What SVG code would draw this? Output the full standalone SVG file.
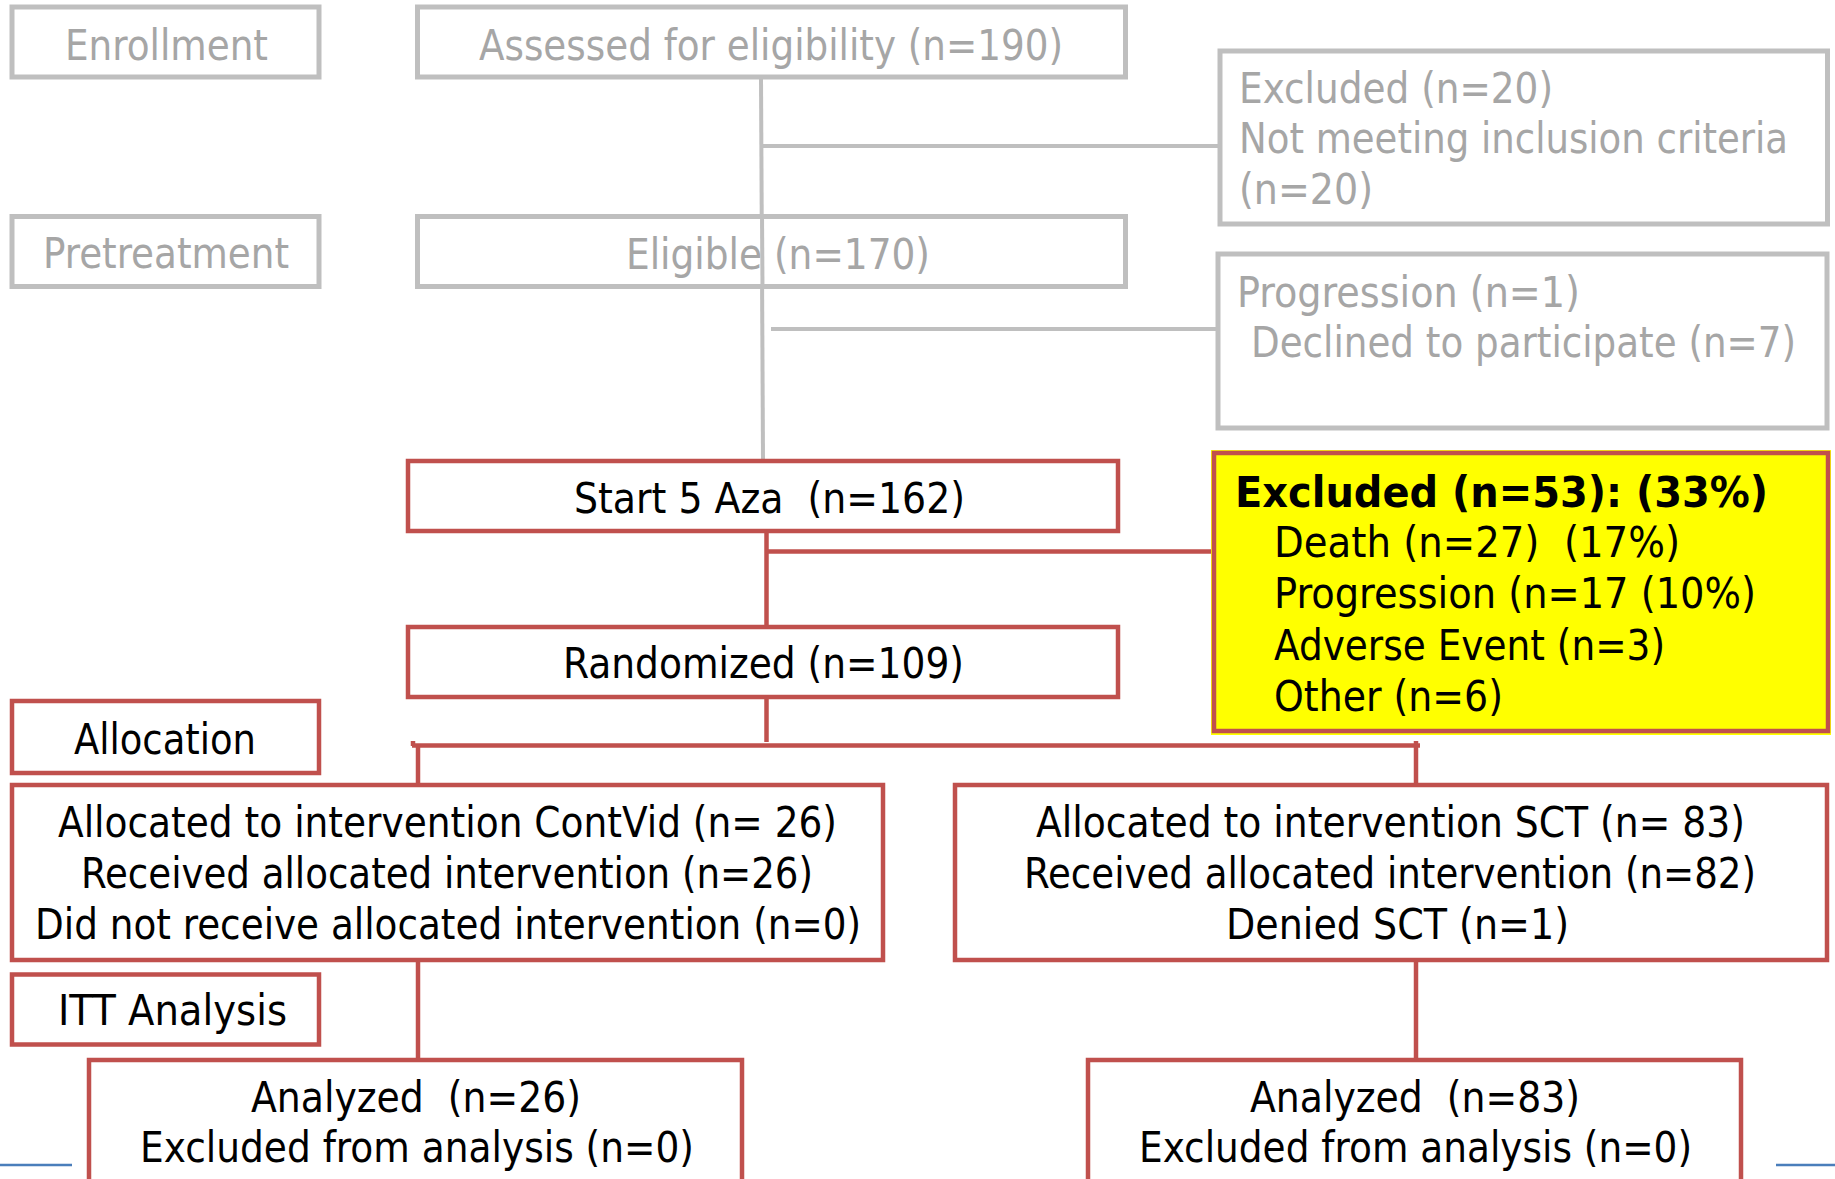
<svg xmlns="http://www.w3.org/2000/svg" width="1835" height="1179" viewBox="0 0 1835 1179">
<style>
.g{fill:#fff;stroke:#BFBFBF;stroke-width:5}
.r{fill:#fff;stroke:#C0504D;stroke-width:4.5}
.y{fill:#FFFF00;stroke:#C0504D;stroke-width:4.5}
.gl{stroke:#BFBFBF;stroke-width:4;fill:none}
.rl{stroke:#C0504D;stroke-width:4.5;fill:none}
.bl{stroke:#4A7EBB;stroke-width:2.5;fill:none}
text{font-family:"DejaVu Sans Condensed","DejaVu Sans",Verdana,sans-serif;font-stretch:condensed;font-size:43px;white-space:pre}
.gt{fill:#A6A6A6}
.bt{fill:#000}
.bd{font-weight:bold}
</style>
<rect x="0" y="0" width="1835" height="1179" fill="#fff"/>
<g id="connectors">
<line class="gl" x1="761" y1="78" x2="763" y2="460"/>
<line class="gl" x1="763" y1="146" x2="1220" y2="146"/>
<line class="gl" x1="771" y1="329" x2="1218" y2="329"/>
<line class="rl" x1="766.5" y1="531" x2="766.5" y2="627"/>
<line class="rl" x1="766.5" y1="551.5" x2="1214" y2="551.5"/>
<line class="rl" x1="766.5" y1="697" x2="766.5" y2="742"/>
<line class="rl" x1="412" y1="745.5" x2="1420" y2="745.5"/>
<line class="rl" x1="413" y1="741" x2="413" y2="746"/>
<line class="rl" x1="418" y1="745" x2="418" y2="785"/>
<line class="rl" x1="1416" y1="741" x2="1416" y2="785"/>
<line class="rl" x1="418" y1="960" x2="418" y2="1060"/>
<line class="rl" x1="1416" y1="960" x2="1416" y2="1060"/>
<line class="bl" x1="0" y1="1165" x2="72" y2="1165"/>
<line class="bl" x1="1776" y1="1165" x2="1835" y2="1165"/>
</g>
<g id="enrollment"><rect class="g" x="12" y="7" width="307" height="70"/><text class="gt" x="65" y="60" textLength="203" lengthAdjust="spacingAndGlyphs">Enrollment</text></g>
<g id="assessed"><rect class="g" x="417.5" y="7" width="708" height="70"/><text class="gt" x="479" y="60" textLength="584" lengthAdjust="spacingAndGlyphs">Assessed for eligibility (n=190)</text></g>
<g id="excluded20"><rect class="g" x="1220" y="51" width="607.5" height="173"/>
<text class="gt" x="1239" y="103" textLength="314" lengthAdjust="spacingAndGlyphs">Excluded (n=20)</text>
<text class="gt" x="1239" y="153" textLength="549" lengthAdjust="spacingAndGlyphs">Not meeting inclusion criteria</text>
<text class="gt" x="1239" y="204" textLength="134" lengthAdjust="spacingAndGlyphs">(n=20)</text></g>
<g id="pretreatment"><rect class="g" x="12" y="216.5" width="307" height="70"/><text class="gt" x="43" y="268" textLength="246" lengthAdjust="spacingAndGlyphs">Pretreatment</text></g>
<g id="eligible"><rect class="g" x="417.5" y="216.5" width="708" height="70"/><text class="gt" x="626" y="269" textLength="304" lengthAdjust="spacingAndGlyphs">Eligible (n=170)</text></g>
<line class="gl" x1="762" y1="214" x2="762.5" y2="289"/>
<g id="declined"><rect class="g" x="1218" y="254" width="609" height="174"/>
<text class="gt" x="1237" y="307" textLength="343" lengthAdjust="spacingAndGlyphs">Progression (n=1)</text>
<text class="gt" x="1251" y="357" textLength="545" lengthAdjust="spacingAndGlyphs">Declined to participate (n=7)</text></g>
<g id="start"><rect class="r" x="408" y="461" width="710" height="70"/><text class="bt" x="574" y="513" textLength="391" lengthAdjust="spacingAndGlyphs">Start 5 Aza  (n=162)</text></g>
<g id="excluded53"><rect x="1211" y="450" width="620" height="285" fill="#FFFF00"/><rect class="y" x="1214" y="453" width="614" height="278"/>
<text class="bt bd" x="1235" y="507" textLength="533" lengthAdjust="spacingAndGlyphs">Excluded (n=53): (33%)</text>
<text class="bt" x="1274" y="557" textLength="406" lengthAdjust="spacingAndGlyphs">Death (n=27)  (17%)</text>
<text class="bt" x="1274" y="608" textLength="482" lengthAdjust="spacingAndGlyphs">Progression (n=17 (10%)</text>
<text class="bt" x="1274" y="660" textLength="391" lengthAdjust="spacingAndGlyphs">Adverse Event (n=3)</text>
<text class="bt" x="1274" y="711" textLength="229" lengthAdjust="spacingAndGlyphs">Other (n=6)</text></g>
<g id="randomized"><rect class="r" x="408" y="627" width="710" height="70"/><text class="bt" x="563" y="678" textLength="401" lengthAdjust="spacingAndGlyphs">Randomized (n=109)</text></g>
<g id="allocation"><rect class="r" x="12" y="701" width="307" height="72"/><text class="bt" x="74" y="754" textLength="182" lengthAdjust="spacingAndGlyphs">Allocation</text></g>
<g id="contvid"><rect class="r" x="12" y="785" width="871" height="175"/>
<text class="bt" x="58" y="837" textLength="779" lengthAdjust="spacingAndGlyphs">Allocated to intervention ContVid (n= 26)</text>
<text class="bt" x="81" y="888" textLength="732" lengthAdjust="spacingAndGlyphs">Received allocated intervention (n=26)</text>
<text class="bt" x="35" y="939" textLength="826" lengthAdjust="spacingAndGlyphs">Did not receive allocated intervention (n=0)</text></g>
<g id="sct"><rect class="r" x="955" y="785" width="872" height="175"/>
<text class="bt" x="1036" y="837" textLength="709" lengthAdjust="spacingAndGlyphs">Allocated to intervention SCT (n= 83)</text>
<text class="bt" x="1024" y="888" textLength="732" lengthAdjust="spacingAndGlyphs">Received allocated intervention (n=82)</text>
<text class="bt" x="1226" y="939" textLength="343" lengthAdjust="spacingAndGlyphs">Denied SCT (n=1)</text></g>
<g id="itt"><rect class="r" x="12" y="974.5" width="307" height="70"/><text class="bt" x="58" y="1025" textLength="229" lengthAdjust="spacingAndGlyphs">ITT Analysis</text></g>
<g id="analyzed26"><rect class="r" x="89" y="1060" width="653" height="200"/>
<text class="bt" x="251" y="1112" textLength="330" lengthAdjust="spacingAndGlyphs">Analyzed  (n=26)</text>
<text class="bt" x="140" y="1162" textLength="554" lengthAdjust="spacingAndGlyphs">Excluded from analysis (n=0)</text></g>
<g id="analyzed83"><rect class="r" x="1088" y="1060" width="653" height="200"/>
<text class="bt" x="1250" y="1112" textLength="330" lengthAdjust="spacingAndGlyphs">Analyzed  (n=83)</text>
<text class="bt" x="1139" y="1162" textLength="553" lengthAdjust="spacingAndGlyphs">Excluded from analysis (n=0)</text></g>
</svg>
